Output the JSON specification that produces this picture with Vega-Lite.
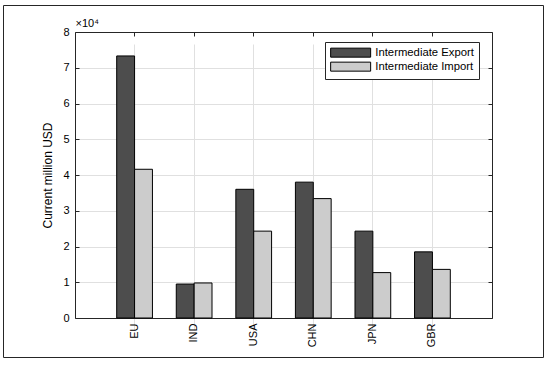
{
  "$schema": "https://vega.github.io/schema/vega-lite/v6.json",
  "width": 540,
  "height": 352,
  "autosize": {"type": "none"},
  "padding": {"left": 3, "top": 5, "right": 7, "bottom": 8},
  "background": "white",
  "data": {
    "values": [
      {"country": "EU", "series": "Intermediate Export", "value": 73300},
      {"country": "EU", "series": "Intermediate Import", "value": 41600},
      {"country": "IND", "series": "Intermediate Export", "value": 9500},
      {"country": "IND", "series": "Intermediate Import", "value": 9800},
      {"country": "USA", "series": "Intermediate Export", "value": 36000},
      {"country": "USA", "series": "Intermediate Import", "value": 24300},
      {"country": "CHN", "series": "Intermediate Export", "value": 38000},
      {"country": "CHN", "series": "Intermediate Import", "value": 33400},
      {"country": "JPN", "series": "Intermediate Export", "value": 24300},
      {"country": "JPN", "series": "Intermediate Import", "value": 12700},
      {"country": "GBR", "series": "Intermediate Export", "value": 18500},
      {"country": "GBR", "series": "Intermediate Import", "value": 13600}
    ]
  },
  "layer": [
    {
      "mark": {"type": "bar", "stroke": "#000000", "strokeWidth": 1},
      "encoding": {
        "x": {
          "field": "country",
          "type": "nominal",
          "sort": ["EU", "IND", "USA", "CHN", "JPN", "GBR"],
          "scale": {"range": [72, 489], "paddingInner": 0.4, "paddingOuter": 0.7},
          "axis": {
            "orient": "bottom",
            "offset": -39,
            "title": null,
            "labelAngle": -90,
            "labelAlign": "right",
            "labelBaseline": "middle",
            "labelPadding": 5,
            "labelFontSize": 11,
            "ticks": false,
            "grid": true,
            "gridColor": "#e0e0e0",
            "domainColor": "#262626"
          }
        },
        "xOffset": {
          "field": "series",
          "type": "nominal",
          "sort": ["Intermediate Export", "Intermediate Import"]
        },
        "y": {
          "field": "value",
          "type": "quantitative",
          "stack": null,
          "scale": {"domain": [0, 80000], "range": [313, 27], "nice": false},
          "axis": {
            "orient": "left",
            "offset": -72,
            "title": "Current million USD",
            "titleFontSize": 12,
            "titleFontWeight": "normal",
            "titlePadding": 8,
            "values": [0, 10000, 20000, 30000, 40000, 50000, 60000, 70000, 80000],
            "labelExpr": "format(datum.value / 10000, 'd')",
            "labelFontSize": 11,
            "labelPadding": 10,
            "tickSize": -4,
            "tickColor": "#262626",
            "grid": true,
            "gridColor": "#e0e0e0",
            "domainColor": "#262626"
          }
        },
        "color": {
          "field": "series",
          "type": "nominal",
          "sort": ["Intermediate Export", "Intermediate Import"],
          "scale": {"domain": ["Intermediate Export", "Intermediate Import"], "range": ["#4d4d4d", "#cccccc"]},
          "legend": {
            "title": null,
            "orient": "none",
            "legendX": 322,
            "legendY": 37,
            "strokeColor": "#262626",
            "fillColor": "white",
            "padding": 5,
            "symbolType": "M-1,-0.9H7V0.9H-1Z",
            "symbolSize": 100,
            "symbolStrokeColor": "#000000",
            "symbolStrokeWidth": 1,
            "symbolOpacity": 1,
            "labelFontSize": 11.3,
            "labelOffset": 34,
            "labelColor": "#000000",
            "rowPadding": 0
          }
        }
      }
    },
    {
      "mark": {"type": "bar", "opacity": 0},
      "encoding": {
        "x": {
          "field": "country",
          "type": "nominal",
          "sort": ["EU", "IND", "USA", "CHN", "JPN", "GBR"],
          "axis": {
            "orient": "top",
            "offset": -27,
            "labels": false,
            "tickSize": -4,
            "tickColor": "#262626",
            "domainColor": "#262626",
            "grid": false,
            "title": "×10⁴",
            "titleAnchor": "start",
            "titleAlign": "left",
            "titlePadding": 3,
            "titleFontSize": 11,
            "titleFontWeight": "normal"
          }
        },
        "y": {
          "field": "value",
          "type": "quantitative",
          "stack": null,
          "axis": {
            "orient": "right",
            "offset": -51,
            "labels": false,
            "values": [0, 10000, 20000, 30000, 40000, 50000, 60000, 70000, 80000],
            "tickSize": -4,
            "tickColor": "#262626",
            "domainColor": "#262626",
            "grid": false,
            "title": null
          }
        }
      }
    }
  ],
  "resolve": {"axis": {"x": "independent", "y": "independent"}},
  "config": {
    "font": "Liberation Sans",
    "view": {"stroke": "#262626", "strokeWidth": 1, "fill": "white"},
    "axis": {"labelColor": "#000000", "titleColor": "#000000", "domainWidth": 1}
  }
}
